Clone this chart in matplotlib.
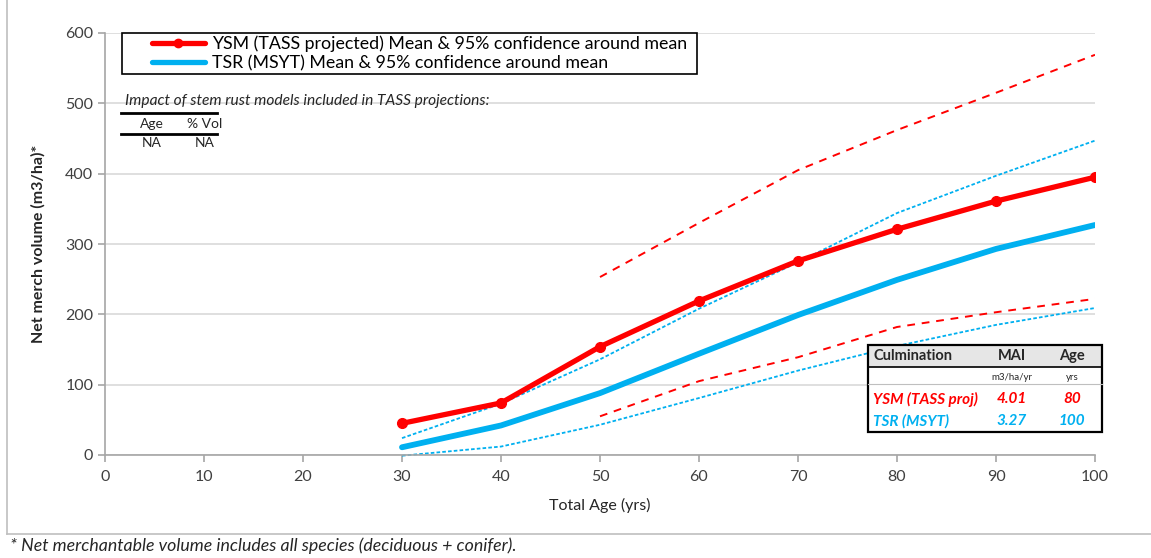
import matplotlib
matplotlib.use("Agg")
import matplotlib.pyplot as plt
from matplotlib.lines import Line2D
from matplotlib.patches import Rectangle

# ---- data ----
ages = [30, 40, 50, 60, 70, 80, 90, 100]
ysm_mean = [45, 74, 154, 219, 276, 321, 361, 395]
ysm_upper_ages = [50, 60, 70, 80, 90, 100]
ysm_upper = [253, 330, 405, 462, 515, 569]
ysm_lower = [55, 105, 139, 182, 203, 222]
tsr_mean = [11, 42, 88, 144, 199, 249, 293, 327]
tsr_upper = [24, 73, 136, 208, 274, 344, 397, 447]
tsr_lower = [-1, 12, 43, 81, 120, 155, 185, 209]

x_ticks = list(range(0, 101, 10))
y_ticks = list(range(0, 601, 100))

legend_labels = ["YSM (TASS projected) Mean & 95% confidence around mean",
                 "TSR (MSYT) Mean & 95% confidence around mean"]
rust_title = "Impact of stem rust models included in TASS projections:"
rust_header = ["Age", "% Vol"]
rust_row = ["NA", "NA"]
culm_header = ["Culmination", "MAI", "Age"]
culm_units = ["m3/ha/yr", "yrs"]
culm_rows = [["YSM (TASS proj)", "4.01", "80"], ["TSR (MSYT)", "3.27", "100"]]
footnote = "* Net merchantable volume includes all species (deciduous + conifer)."

RED = "#FF0000"
BLUE = "#00B0F0"
GRAY = "#A6A6A6"
TXT = "#262626"

plt.rcParams['font.family'] = ['Lato', 'DejaVu Sans']

W, H = 1151, 558
fig = plt.figure(figsize=(W / 100, H / 100), dpi=100)

def fx(px):
    return px / W

def fy(py):
    return 1 - py / H

ax = fig.add_axes([fx(105), fy(455), fx(1095) - fx(105), fy(33) - fy(455)])
ax.set_xlim(0, 100)
ax.set_ylim(0, 600)
ax.set_xticks(x_ticks)
ax.set_yticks(y_ticks)
ax.grid(axis='y', color='#D9D9D9', linewidth=1.2)
ax.set_axisbelow(True)
for s in ['top', 'right']:
    ax.spines[s].set_visible(False)
for s in ['left', 'bottom']:
    ax.spines[s].set_color(GRAY)
    ax.spines[s].set_linewidth(1.2)
ax.tick_params(axis='both', colors=GRAY, length=5, width=1.2, labelcolor='#404040',
               labelsize=11.5)
ax.tick_params(axis='x', pad=6)

# lines
ax.plot(ysm_upper_ages, ysm_upper, color=RED, lw=1.4, dashes=(4, 3.5))
ax.plot(ysm_upper_ages, ysm_lower, color=RED, lw=1.4, dashes=(4, 3.5))
ax.plot(ages, tsr_upper, color=BLUE, lw=1.3, dashes=(2, 1.2))
ax.plot(ages, tsr_lower, color=BLUE, lw=1.3, dashes=(2, 1.2), clip_on=False)
ax.plot(ages, tsr_mean, color=BLUE, lw=4.2, solid_capstyle='round')
ax.plot(ages, ysm_mean, color=RED, lw=3.8, marker='o', markersize=7,
        solid_capstyle='round')

ax.set_xlabel("Total Age (yrs)", fontsize=11.5, color=TXT, labelpad=10)
ax.set_ylabel("Net merch volume (m3/ha)*", fontsize=11.5, color=TXT,
              fontweight='bold', labelpad=14)

# legend (drawn manually to match box geometry)
fig.add_artist(Rectangle((fx(122), fy(74)), fx(697) - fx(122), fy(33) - fy(74),
                         transform=fig.transFigure, facecolor='white',
                         edgecolor='black', lw=1.2, zorder=10))
for yy, c, lab, mk in zip([43, 62], [RED, BLUE], legend_labels, ['o', None]):
    fig.add_artist(Line2D([fx(152), fx(205)], [fy(yy), fy(yy)], color=c, lw=3.8,
                          solid_capstyle='round', zorder=11))
    if mk:
        fig.add_artist(Line2D([fx(178)], [fy(yy)], color=c, marker=mk,
                              markersize=6, zorder=12))
    fig.text(fx(212), fy(yy + 1), lab, fontsize=12.8, ha='left', va='center',
             color='black', zorder=12)

# rust table
fig.text(fx(125), fy(101), rust_title, fontsize=11.2, style='italic',
         color=TXT, va='center', ha='left')
fig.add_artist(Line2D([fx(121), fx(217)], [fy(113), fy(113)], color='black', lw=2))
fig.add_artist(Line2D([fx(121), fx(217)], [fy(134), fy(134)], color='black', lw=2))
fig.text(fx(152), fy(124), rust_header[0], fontsize=10, ha='center', va='center', color=TXT)
fig.text(fx(205), fy(124), rust_header[1], fontsize=10, ha='center', va='center', color=TXT)
fig.text(fx(152), fy(143), rust_row[0], fontsize=10, ha='center', va='center', color=TXT)
fig.text(fx(205), fy(143), rust_row[1], fontsize=10, ha='center', va='center', color=TXT)

# culmination table
x0, x1, y0, y1 = 868, 1102, 345, 432
fig.add_artist(Rectangle((fx(x0), fy(y1)), fx(x1) - fx(x0), fy(367) - fy(y1),
                         transform=fig.transFigure, facecolor='white',
                         edgecolor='none', zorder=4))
fig.add_artist(Rectangle((fx(x0), fy(367)), fx(x1) - fx(x0), fy(y0) - fy(367),
                         transform=fig.transFigure, facecolor='#E6E6E6',
                         edgecolor='none', zorder=5))
fig.add_artist(Rectangle((fx(x0), fy(y1)), fx(x1) - fx(x0), fy(y0) - fy(y1),
                         transform=fig.transFigure, facecolor='none',
                         edgecolor='black', lw=1.6, zorder=7))
fig.add_artist(Line2D([fx(x0), fx(x1)], [fy(367), fy(367)], color='black', lw=1.2, zorder=7))
fig.add_artist(Line2D([fx(x0), fx(x1)], [fy(384), fy(384)], color='#BFBFBF', lw=0.8, zorder=7))
col_x = [873, 1012, 1072]
fig.text(fx(col_x[0]), fy(356), culm_header[0], fontsize=10.5, fontweight='bold',
         ha='left', va='center', color=TXT, zorder=8)
fig.text(fx(col_x[1]), fy(356), culm_header[1], fontsize=10.5, fontweight='bold',
         ha='center', va='center', color=TXT, zorder=8)
fig.text(fx(col_x[2]), fy(356), culm_header[2], fontsize=10.5, fontweight='bold',
         ha='center', va='center', color=TXT, zorder=8)
fig.text(fx(col_x[1]), fy(378), culm_units[0], fontsize=7, ha='center', va='center',
         color=TXT, zorder=8)
fig.text(fx(col_x[2]), fy(378), culm_units[1], fontsize=7, ha='center', va='center',
         color=TXT, zorder=8)
for row, yy, c in zip(culm_rows, [399, 421], [RED, BLUE]):
    fig.text(fx(col_x[0]), fy(yy), row[0], fontsize=11, style='italic', fontweight='bold',
             ha='left', va='center', color=c, zorder=8)
    fig.text(fx(col_x[1]), fy(yy), row[1], fontsize=11, style='italic', fontweight='bold',
             ha='center', va='center', color=c, zorder=8)
    fig.text(fx(col_x[2]), fy(yy), row[2], fontsize=11, style='italic', fontweight='bold',
             ha='center', va='center', color=c, zorder=8)

# outer chart border (left & bottom)
fig.add_artist(Line2D([fx(7), fx(7)], [fy(0), fy(534)], color='#BFBFBF', lw=1.2))
fig.add_artist(Line2D([fx(7), fx(1151)], [fy(534), fy(534)], color='#BFBFBF', lw=1.2))

fig.text(fx(10), fy(546), footnote, fontsize=12.8, style='italic', ha='left',
         va='center', color=TXT)

fig.savefig("out.png", dpi=100)
